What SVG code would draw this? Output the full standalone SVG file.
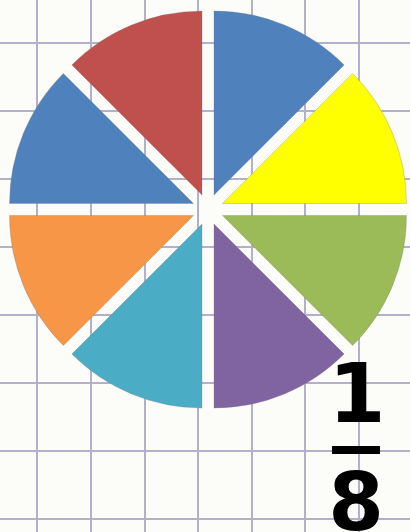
<svg xmlns="http://www.w3.org/2000/svg" width="410" height="532" viewBox="0 0 410 532">
<style>
.grid line{stroke:#b2b0cc;stroke-width:2}
.slice{stroke:#7a7a7a;stroke-width:0.6;stroke-opacity:0.5}
.frac{font-family:"DejaVu Sans",sans-serif;font-weight:bold;font-size:82px;fill:#000;text-anchor:middle}
</style>
<rect width="410" height="532" fill="#fcfcf9"/>
<g class="grid">
<line x1="37" y1="0" x2="37" y2="532"/>
<line x1="91" y1="0" x2="91" y2="532"/>
<line x1="145" y1="0" x2="145" y2="532"/>
<line x1="198" y1="0" x2="198" y2="532"/>
<line x1="252" y1="0" x2="252" y2="532"/>
<line x1="305" y1="0" x2="305" y2="532"/>
<line x1="359" y1="0" x2="359" y2="532"/>
<line x1="0" y1="43" x2="410" y2="43"/>
<line x1="0" y1="111" x2="410" y2="111"/>
<line x1="0" y1="179" x2="410" y2="179"/>
<line x1="0" y1="247" x2="410" y2="247"/>
<line x1="0" y1="315" x2="410" y2="315"/>
<line x1="0" y1="383" x2="410" y2="383"/>
<line x1="0" y1="451" x2="410" y2="451"/>
<line x1="0" y1="519" x2="410" y2="519"/>
</g>
<g id="pie">
<g id="slice-blue-top"><path class="slice" transform="translate(214,195)" fill="#4F81BD" d="M0,0 L0,-184 A184,184 0 0,1 130.11,-130.11 Z"/></g>
<g id="slice-yellow"><path class="slice" transform="translate(222.5,203.5)" fill="#FFFF00" d="M0,0 L130.11,-130.11 A184,184 0 0,1 184,0 Z"/></g>
<g id="slice-green"><path class="slice" transform="translate(222.5,215.5)" fill="#9BBB59" d="M0,0 L184,0 A184,184 0 0,1 130.11,130.11 Z"/></g>
<g id="slice-purple"><path class="slice" transform="translate(214,224)" fill="#8064A2" d="M0,0 L130.11,130.11 A184,184 0 0,1 0,184 Z"/></g>
<g id="slice-teal"><path class="slice" transform="translate(202,224)" fill="#4BACC6" d="M0,0 L0,184 A184,184 0 0,1 -130.11,130.11 Z"/></g>
<g id="slice-orange"><path class="slice" transform="translate(193.5,215.5)" fill="#F79646" d="M0,0 L-130.11,130.11 A184,184 0 0,1 -184,0 Z"/></g>
<g id="slice-blue-left"><path class="slice" transform="translate(193.5,203.5)" fill="#4F81BD" d="M0,0 L-184,0 A184,184 0 0,1 -130.11,-130.11 Z"/></g>
<g id="slice-red"><path class="slice" transform="translate(202,195)" fill="#C0504D" d="M0,0 L-130.11,-130.11 A184,184 0 0,1 0,-184 Z"/></g>
</g>
<g id="fraction">
<text class="frac" x="357" y="422">1</text>
<rect x="332" y="446" width="48" height="8" fill="#000"/>
<text class="frac" x="356" y="530" style="font-size:80px">8</text>
</g>
</svg>
